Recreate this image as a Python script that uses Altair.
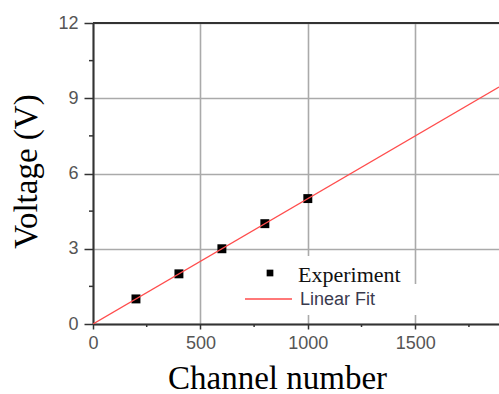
import altair as alt
import pandas as pd

# Measured points
channel = [200, 400, 600, 800, 1000]
voltage = [1, 2, 3, 4, 5]

# Axis ticks
x_ticks = [0, 500, 1000, 1500]
y_ticks = [0, 3, 6, 9, 12]
x_minor = [250, 750, 1250, 1750]
y_minor = [1.5, 4.5, 7.5, 10.5]
x_max = 1890
y_max = 12

legend_labels = ["Experiment", "Linear Fit"]

W, H = 406, 301
AXIS_DARK = "#333333"
GRID = "#aaaaaa"
FIT_RED = "#ff4d4d"
SANS = "Arial, Liberation Sans, sans-serif"
SERIF = "Times New Roman, Liberation Serif, serif"

points_df = pd.DataFrame({"channel": channel, "voltage": voltage})

xscale = alt.Scale(domain=[0, x_max], nice=False, zero=False)
yscale = alt.Scale(domain=[0, y_max], nice=False)

x_axis = alt.Axis(
    values=x_ticks, format="d", title="Channel number",
    titleFont=SERIF, titleFontSize=33, titleFontWeight="normal",
    titleColor="#000000", titleX=184, titleY=64, titleBaseline="alphabetic",
    labelFont=SANS, labelFontSize=18, labelColor="#555555",
    labelPadding=5, labelFlush=False,
    tickSize=5, tickColor=AXIS_DARK, tickWidth=1.5,
    domainColor=AXIS_DARK, domainWidth=2,
    grid=True, gridColor=GRID, gridWidth=1.6,
)
y_axis = alt.Axis(
    values=y_ticks, format="d", title="Voltage (V)",
    titleFont=SERIF, titleFontSize=33, titleFontWeight="normal",
    titleColor="#000000", titleX=-57, titleY=148, titleAngle=-90,
    titleBaseline="alphabetic",
    labelFont=SANS, labelFontSize=18, labelColor="#555555",
    labelPadding=6, labelFlush=False,
    tickSize=9, tickColor=AXIS_DARK, tickWidth=1.5,
    domainColor=AXIS_DARK, domainWidth=2,
    grid=True, gridColor=GRID, gridWidth=1.6,
)

points = alt.Chart(points_df).mark_square(
    size=80, color="#000000", opacity=1
).encode(
    x=alt.X("channel:Q", scale=xscale, axis=x_axis),
    y=alt.Y("voltage:Q", scale=yscale, axis=y_axis),
)

fit = alt.Chart(points_df).transform_regression(
    "channel", "voltage", extent=[0, x_max]
).mark_line(color=FIT_RED, strokeWidth=1.3, clip=True).encode(
    x=alt.X("channel:Q", scale=xscale),
    y=alt.Y("voltage:Q", scale=yscale),
)

# Minor tick marks along both axes
x_minor_ticks = alt.Chart(pd.DataFrame({"channel": x_minor})).mark_rule(
    color=AXIS_DARK, strokeWidth=1.5
).encode(
    x=alt.X("channel:Q", scale=xscale),
    y=alt.value(H), y2=alt.value(H + 3),
)
y_minor_ticks = alt.Chart(pd.DataFrame({"voltage": y_minor})).mark_rule(
    color=AXIS_DARK, strokeWidth=1.5
).encode(
    y=alt.Y("voltage:Q", scale=yscale),
    x=alt.value(-4), x2=alt.value(0),
)

# Frame line along the top of the plot
one = pd.DataFrame({"k": [0]})
top_border = alt.Chart(one).mark_rule(color=AXIS_DARK, strokeWidth=2).encode(
    x=alt.value(0), x2=alt.value(W), y=alt.value(0)
)

# Legend: white backing, symbols and labels
legend_bg1 = alt.Chart(one).mark_rect(color="white").encode(
    x=alt.value(147), x2=alt.value(317), y=alt.value(233), y2=alt.value(291)
)
legend_bg2 = alt.Chart(one).mark_rect(color="white").encode(
    x=alt.value(147), x2=alt.value(332), y=alt.value(261), y2=alt.value(292)
)
legend_sym = alt.Chart(one).mark_square(size=45, color="#000000", opacity=1).encode(
    x=alt.value(177), y=alt.value(250)
)
legend_txt1 = alt.Chart(one).mark_text(
    text=legend_labels[0], font=SERIF, fontSize=22,
    align="left", baseline="alphabetic", color="#111111"
).encode(x=alt.value(205), y=alt.value(259))
legend_line = alt.Chart(one).mark_rule(color=FIT_RED, strokeWidth=1.5).encode(
    x=alt.value(152), x2=alt.value(199), y=alt.value(276)
)
legend_txt2 = alt.Chart(one).mark_text(
    text=legend_labels[1], font=SANS, fontSize=18,
    align="left", baseline="alphabetic", color="#3a3a4e"
).encode(x=alt.value(207), y=alt.value(282))

chart = alt.layer(
    points, fit, x_minor_ticks, y_minor_ticks, top_border,
    legend_bg1, legend_bg2, legend_sym, legend_txt1, legend_line, legend_txt2,
).properties(
    width=W, height=H,
    autosize=alt.AutoSizeParams(type="none"),
    padding={"left": 93, "top": 23, "right": 0, "bottom": 70},
    background="white",
).configure_view(stroke=None)

chart.save("out.html", embed_options={"renderer": "svg", "actions": False})
